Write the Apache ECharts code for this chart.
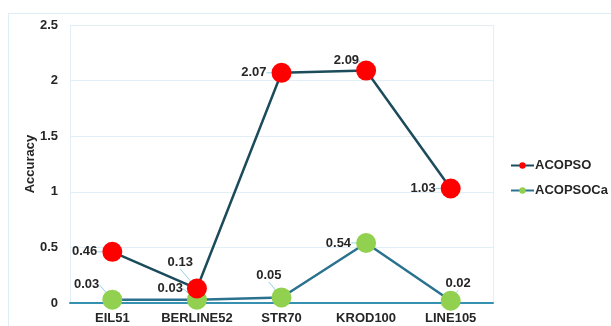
<!DOCTYPE html>
<html>
<head>
<meta charset="utf-8">
<script src="https://cdn.jsdelivr.net/npm/echarts@6/dist/echarts.min.js"></script>
<style>
  html, body { margin: 0; padding: 0; background: #ffffff; }
  #chart { width: 611px; height: 326px; }
</style>
</head>
<body>
<div id="chart"></div>
<script>
// Benchmark instances and accuracy of the two algorithms
const categories = ['EIL51', 'BERLINE52', 'STR70', 'KROD100', 'LINE105'];
const acopso = [0.46, 0.13, 2.07, 2.09, 1.03];
const acopsoCa = [0.03, 0.03, 0.05, 0.54, 0.02];
const yTicks = { min: 0, max: 2.5, interval: 0.5 };

// Label nudges (dx, dy) relative to the "left" label position, per point
const labelShift = [
  [[0, 0], [11, -26], [0, 0], [8, -10], [0, 0]],
  [[2, -15], [1, -11], [15, -22], [0, 0], [35, -17]]
];

const font = 'Liberation Sans, Arial, sans-serif';
const textColor = '#262626';

const chart = echarts.init(document.getElementById('chart'), null, { renderer: 'canvas' });

function makeSeries(name, data, lineColor, dotColor, idx) {
  return {
    name: name,
    type: 'line',
    data: data,
    symbol: 'circle',
    symbolSize: 20,
    lineStyle: { color: lineColor, width: 2.5 },
    itemStyle: { color: dotColor },
    z: idx === 0 ? 3 : 2,
    label: {
      show: true,
      position: 'left',
      distance: 5,
      color: textColor,
      fontFamily: font,
      fontWeight: 'bold',
      fontSize: 13,
      formatter: p => p.value.toFixed(2)
    },
    labelLine: {
      show: true,
      lineStyle: { color: '#8fd3ea', width: 1 }
    },
    labelLayout: function (p) {
      const s = labelShift[idx][p.dataIndex];
      return { dx: s[0], dy: s[1] };
    },
    emphasis: { disabled: true },
    animation: false
  };
}

chart.setOption({
  backgroundColor: '#ffffff',
  animation: false,
  graphic: [
    { type: 'line', shape: { x1: 8, y1: 13.5, x2: 611, y2: 13.5 }, style: { stroke: '#dcedf5', lineWidth: 1 } },
    { type: 'line', shape: { x1: 8.5, y1: 13, x2: 8.5, y2: 326 }, style: { stroke: '#dcedf5', lineWidth: 1 } },
    { type: 'line', shape: { x1: 70.5, y1: 25, x2: 70.5, y2: 303 }, style: { stroke: '#e2eff6', lineWidth: 1 } },
    { type: 'line', shape: { x1: 493.5, y1: 25, x2: 493.5, y2: 303 }, style: { stroke: '#e2eff6', lineWidth: 1 } }
  ],
  grid: { left: 70, right: 118, top: 25, bottom: 23, containLabel: false },
  legend: {
    orient: 'vertical',
    left: 505,
    top: 154,
    itemWidth: 23,
    itemHeight: 8,
    itemGap: 12,
    textStyle: { color: textColor, fontFamily: font, fontWeight: 'bold', fontSize: 13, padding: [0, 0, 0, -4] },
    data: ['ACOPSO', 'ACOPSOCa']
  },
  xAxis: {
    type: 'category',
    data: categories,
    boundaryGap: true,
    axisLine: { show: true, lineStyle: { color: '#3690b0', width: 2 } },
    axisTick: { show: false },
    axisLabel: { color: textColor, fontFamily: font, fontWeight: 'bold', fontSize: 13, margin: 9, interval: 0 },
    splitLine: { show: false }
  },
  yAxis: {
    type: 'value',
    min: yTicks.min,
    max: yTicks.max,
    interval: yTicks.interval,
    name: 'Accuracy',
    nameLocation: 'middle',
    nameGap: 33,
    nameMoveOverlap: false,
    nameRotate: 90,
    nameTextStyle: { color: textColor, fontFamily: font, fontWeight: 'bold', fontSize: 13 },
    axisLine: { show: false },
    axisTick: { show: false },
    axisLabel: { color: textColor, fontFamily: font, fontWeight: 'bold', fontSize: 13, margin: 12 },
    splitLine: { lineStyle: { color: '#e2eff6', width: 1 } }
  },
  series: [
    makeSeries('ACOPSO', acopso, '#1c4c5c', '#ff0000', 0),
    makeSeries('ACOPSOCa', acopsoCa, '#2a7290', '#92d050', 1)
  ]
});
</script>
</body>
</html>
